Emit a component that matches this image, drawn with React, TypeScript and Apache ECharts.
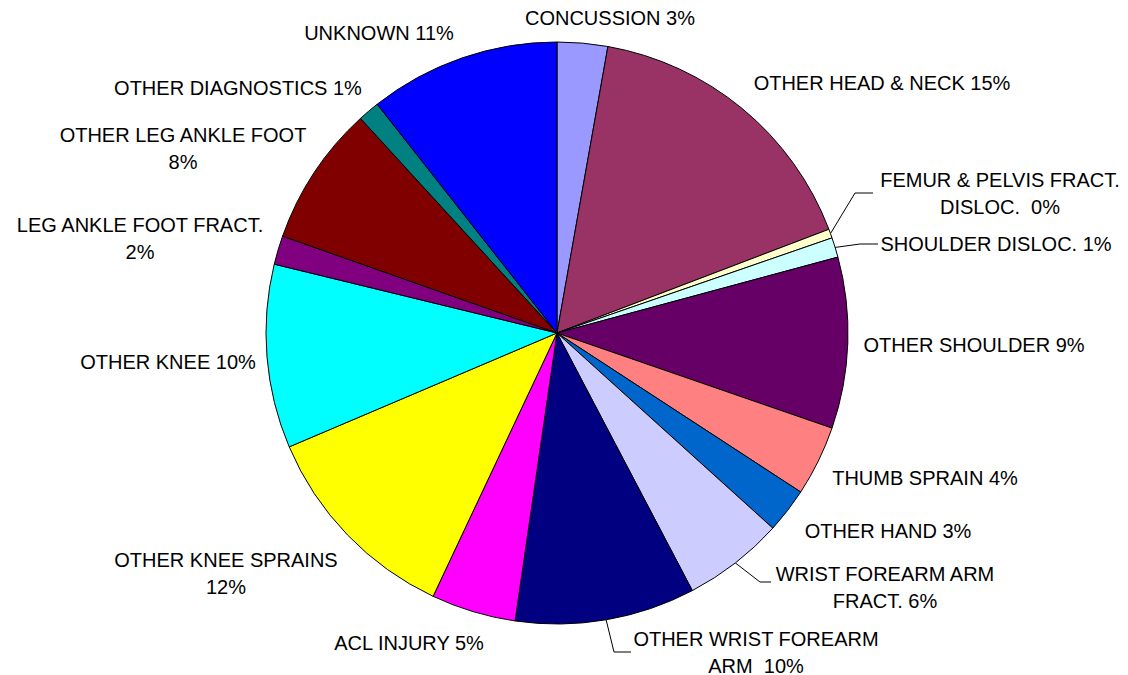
import React, { useEffect, useRef } from "react";
import * as echarts from "echarts";

// Injury categories, clockwise from 12 o'clock
const CATEGORIES = [
  "CONCUSSION",
  "OTHER HEAD & NECK",
  "FEMUR & PELVIS FRACT. DISLOC.",
  "SHOULDER DISLOC.",
  "OTHER SHOULDER",
  "THUMB SPRAIN",
  "OTHER HAND",
  "WRIST FOREARM ARM FRACT.",
  "OTHER WRIST FOREARM ARM",
  "ACL INJURY",
  "OTHER KNEE SPRAINS",
  "OTHER KNEE",
  "LEG ANKLE FOOT FRACT.",
  "OTHER LEG ANKLE FOOT",
  "OTHER DIAGNOSTICS",
  "UNKNOWN",
];

// Share of injuries (%)
const SHARES = [2.8, 16.4, 0.5, 1.1, 9.5, 3.9, 2.5, 5.6, 10.0, 4.7, 11.6, 10.2, 1.6, 7.8, 1.2, 10.6];

// Label texts as printed on the chart
const LABELS = [
  "CONCUSSION 3%",
  "OTHER HEAD & NECK 15%",
  "FEMUR & PELVIS FRACT.\nDISLOC.  0%",
  "SHOULDER DISLOC. 1%",
  "OTHER SHOULDER 9%",
  "THUMB SPRAIN 4%",
  "OTHER HAND 3%",
  "WRIST FOREARM ARM\nFRACT. 6%",
  "OTHER WRIST FOREARM\nARM  10%",
  "ACL INJURY 5%",
  "OTHER KNEE SPRAINS\n12%",
  "OTHER KNEE 10%",
  "LEG ANKLE FOOT FRACT.\n2%",
  "OTHER LEG ANKLE FOOT\n8%",
  "OTHER DIAGNOSTICS 1%",
  "UNKNOWN 11%",
];

const COLORS = [
  "#9999FF", "#993366", "#FFFFCC", "#CCFFFF", "#660066", "#FF8080", "#0066CC", "#CCCCFF",
  "#000080", "#FF00FF", "#FFFF00", "#00FFFF", "#800080", "#800000", "#008080", "#0000FF",
];

// Label placement (text block centres) – layout only
const LABEL_POS: [number, number][] = [
  [610, 18],
  [882, 83],
  [1000, 193],
  [996, 244],
  [974, 345],
  [925, 478],
  [888, 531],
  [885, 587],
  [756, 652],
  [409, 643],
  [226, 573],
  [168, 362],
  [140, 238],
  [183, 148],
  [238, 88],
  [379, 33],
];

// Leader-line bends for labels that have one: [bend point, end point]
const LEADERS: Record<number, [number, number][]> = {
  2: [[855, 193], [873, 193]],
  3: [[860, 244], [878, 244]],
  7: [[760, 582], [771, 582]],
  8: [[614, 652], [631, 652]],
};

export default function App() {
  const ref = useRef<HTMLDivElement>(null);
  useEffect(() => {
    document.body.style.margin = "0";
    if (!ref.current) return;
    const chart = echarts.init(ref.current, undefined, { renderer: "svg" });
    const data = CATEGORIES.map((name, i) => ({
      name,
      value: SHARES[i],
      itemStyle: { color: COLORS[i] },
      label: { formatter: LABELS[i] },
      labelLine: { show: LEADERS[i] !== undefined },
    }));
    chart.setOption({
      animation: false,
      backgroundColor: "#ffffff",
      series: [
        {
          type: "pie",
          center: [557, 333],
          radius: 291,
          startAngle: 90,
          clockwise: true,
          avoidLabelOverlap: false,
          minAngle: 0,
          itemStyle: { borderColor: "#000000", borderWidth: 1 },
          emphasis: { disabled: true },
          label: {
            show: true,
            position: "outside",
            color: "#000000",
            fontSize: 20,
            lineHeight: 27,
            fontFamily: "'Liberation Sans', Arial, sans-serif",
            align: "center",
          },
          labelLine: {
            show: false,
            length: 15,
            length2: 15,
            lineStyle: { color: "#000000", width: 1 },
          },
          labelLayout: (p: any) => {
            const i = p.dataIndex;
            const pos = LABEL_POS[i];
            const out: any = {
              x: pos[0],
              y: pos[1],
              align: "center",
              verticalAlign: "middle",
              hideOverlap: false,
              moveOverlap: null,
            };
            const bends = LEADERS[i];
            if (bends && p.labelLinePoints) {
              out.labelLinePoints = [p.labelLinePoints[0], bends[0], bends[1]];
            }
            return out;
          },
          data,
        },
      ],
    });
    return () => chart.dispose();
  }, []);
  return (
    <div
      ref={ref}
      style={{ position: "absolute", left: 0, top: 0, width: 1128, height: 675 }}
    />
  );
}
